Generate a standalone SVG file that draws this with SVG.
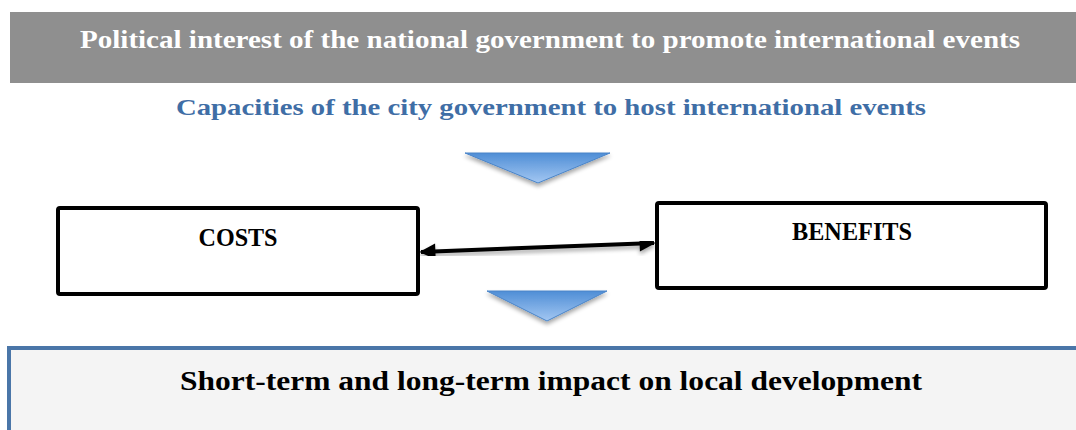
<svg xmlns="http://www.w3.org/2000/svg" width="1076" height="430" viewBox="0 0 1076 430">
<defs>
<linearGradient id="tri" x1="0" y1="0" x2="0" y2="1">
<stop offset="0" stop-color="#4f8ed6"/>
<stop offset="1" stop-color="#a3c7f2"/>
</linearGradient>
<filter id="sh" x="-20%" y="-20%" width="140%" height="160%">
<feGaussianBlur in="SourceAlpha" stdDeviation="2"/>
<feOffset dx="0" dy="3" result="b"/>
<feComponentTransfer><feFuncA type="linear" slope="0.35"/></feComponentTransfer>
<feMerge><feMergeNode/><feMergeNode in="SourceGraphic"/></feMerge>
</filter>
<marker id="ah" viewBox="0 0 10 10" refX="9" refY="5" markerWidth="4.5" markerHeight="4" orient="auto-start-reverse" markerUnits="strokeWidth">
<path d="M0,0 L10,5 L0,10 z" fill="#000"/>
</marker>
<style>
text{font-family:"Liberation Serif","Times New Roman",serif;font-weight:bold;text-anchor:middle}
.box{fill:#fff;stroke:#000;stroke-width:4}
</style>
</defs>
<rect width="1076" height="430" fill="#fff"/>
<g id="national">
<rect x="10" y="12" width="1066" height="71" fill="#8f8f8f"/>
<text x="550" y="48" font-size="26" fill="#fff" textLength="940" lengthAdjust="spacingAndGlyphs">Political interest of the national government to promote international events</text>
</g>
<g id="capacities">
<text x="551" y="115" font-size="24" fill="#3f6ea6" textLength="750" lengthAdjust="spacingAndGlyphs">Capacities of the city government to host international events</text>
</g>
<g id="arrow1">
<polygon points="465,153 610,153 538,183" fill="url(#tri)" stroke="#4a84c8" stroke-width="1" filter="url(#sh)"/>
</g>
<g id="costs">
<rect class="box" x="58" y="208" width="360" height="86" rx="2"/>
<text x="238" y="246" font-size="26" fill="#000" textLength="79" lengthAdjust="spacingAndGlyphs">COSTS</text>
</g>
<g id="benefits">
<rect class="box" x="657" y="203" width="389" height="85" rx="2"/>
<text x="852" y="240" font-size="26" fill="#000" textLength="120" lengthAdjust="spacingAndGlyphs">BENEFITS</text>
</g>
<g id="connectors">
<line x1="421" y1="252" x2="654" y2="243" stroke="#000" stroke-width="4" marker-start="url(#ah)" marker-end="url(#ah)" filter="url(#sh)"/>
</g>
<g id="arrow2">
<polygon points="487,291 607,291 547,321" fill="url(#tri)" stroke="#4a84c8" stroke-width="1" filter="url(#sh)"/>
</g>
<g id="impact">
<rect x="9" y="348" width="1080" height="100" fill="#f4f4f4" stroke="#4a76a8" stroke-width="4"/>
<text x="551" y="390" font-size="28" fill="#000" textLength="742" lengthAdjust="spacingAndGlyphs">Short-term and long-term impact on local development</text>
</g>
</svg>
